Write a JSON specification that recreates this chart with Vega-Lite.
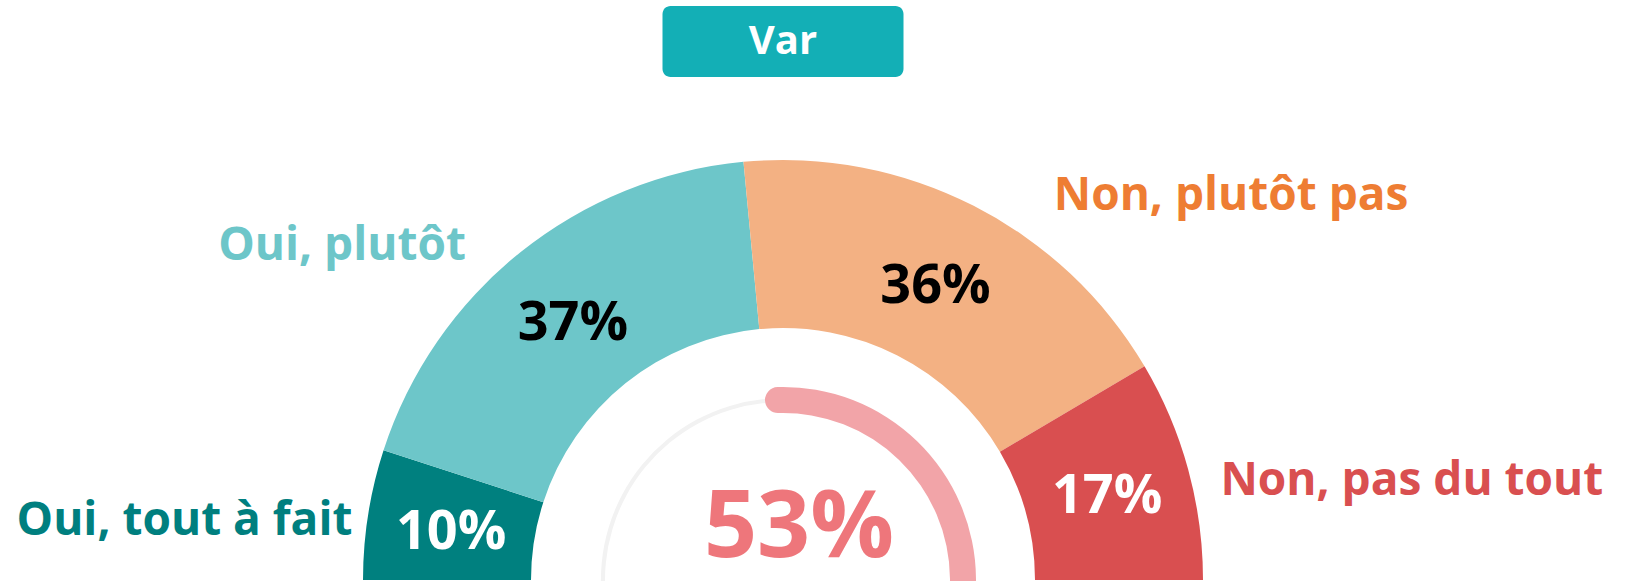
{
  "$schema": "https://vega.github.io/schema/vega-lite/v6.json",
  "padding": {"left": 0, "top": 6, "right": 0, "bottom": 0},
  "bounds": "flush",
  "center": true,
  "spacing": 0,
  "background": "white",
  "config": {"font": "Open Sans", "view": {"stroke": null}},
  "datasets": {
    "answers": [
      {"cat": "Oui, tout à fait", "pct": 0.10, "ord": 1},
      {"cat": "Oui, plutôt", "pct": 0.37, "ord": 2},
      {"cat": "Non, plutôt pas", "pct": 0.36, "ord": 3},
      {"cat": "Non, pas du tout", "pct": 0.17, "ord": 4}
    ],
    "gauge": [{"part": "track", "v": 1.0}, {"part": "value", "v": 0.53}]
  },
  "vconcat": [
    {
      "width": 241,
      "height": 71,
      "view": {"fill": "#13AFB6", "cornerRadius": 8, "stroke": null},
      "data": {"values": [{"title": "Var"}]},
      "mark": {"type": "text", "fontSize": 40, "fontWeight": "bold", "color": "white", "baseline": "middle"},
      "encoding": {"text": {"field": "title"}}
    },
    {
      "width": 1566,
      "height": 503,
      "view": {"stroke": null},
      "resolve": {"scale": {"theta": "independent", "color": "independent"}},
      "layer": [
        {
          "data": {"name": "answers"},
          "mark": {"type": "arc", "radius": 420, "radius2": 252, "y": "height"},
          "encoding": {
            "theta": {"field": "pct", "type": "quantitative", "stack": true, "scale": {"domain": [0, 1], "range": [-1.5708, 1.5708]}},
            "order": {"field": "ord"},
            "color": {"field": "cat", "type": "nominal", "legend": null,
              "scale": {"domain": ["Oui, tout à fait", "Oui, plutôt", "Non, plutôt pas", "Non, pas du tout"],
                        "range": ["#00807F", "#6DC6C9", "#F3B183", "#D94F50"]}}
          }
        },
        {
          "data": {"name": "answers"},
          "mark": {"type": "text", "radius": 336, "y": "height", "dy": 6, "fontSize": 54, "fontWeight": "bold", "baseline": "middle", "align": "center"},
          "encoding": {
            "theta": {"field": "pct", "type": "quantitative", "stack": true, "scale": {"domain": [0, 1], "range": [-1.5708, 1.5708]}},
            "order": {"field": "ord"},
            "text": {"field": "pct", "type": "quantitative", "format": ".0%"},
            "color": {"field": "cat", "type": "nominal", "legend": null,
              "scale": {"domain": ["Oui, tout à fait", "Oui, plutôt", "Non, plutôt pas", "Non, pas du tout"],
                        "range": ["#FFFFFF", "#000000", "#000000", "#FFFFFF"]}}
          }
        },
        {
          "data": {"name": "answers"},
          "mark": {"type": "text", "radius": 440, "y": "height", "fontSize": 46, "fontWeight": "bold", "baseline": "middle", "align": "right", "color": "#007F7F", "dy": 10, "dx": 4},
          "encoding": {
            "theta": {"field": "pct", "type": "quantitative", "stack": true, "scale": {"domain": [0, 1], "range": [-1.5708, 1.5708]}},
            "order": {"field": "ord"},
            "text": {"condition": {"test": "datum.ord == 1", "field": "cat"}, "value": ""}
          }
        },
        {
          "data": {"name": "answers"},
          "mark": {"type": "text", "radius": 440, "y": "height", "fontSize": 46, "fontWeight": "bold", "baseline": "middle", "align": "right", "color": "#6DC6C9", "dx": -42, "dy": 9},
          "encoding": {
            "theta": {"field": "pct", "type": "quantitative", "stack": true, "scale": {"domain": [0, 1], "range": [-1.5708, 1.5708]}},
            "order": {"field": "ord"},
            "text": {"condition": {"test": "datum.ord == 2", "field": "cat"}, "value": ""}
          }
        },
        {
          "data": {"name": "answers"},
          "mark": {"type": "text", "radius": 440, "y": "height", "fontSize": 46, "fontWeight": "bold", "baseline": "middle", "align": "left", "color": "#EE7D33", "dx": 71, "dy": 8},
          "encoding": {
            "theta": {"field": "pct", "type": "quantitative", "stack": true, "scale": {"domain": [0, 1], "range": [-1.5708, 1.5708]}},
            "order": {"field": "ord"},
            "text": {"condition": {"test": "datum.ord == 3", "field": "cat"}, "value": ""}
          }
        },
        {
          "data": {"name": "answers"},
          "mark": {"type": "text", "radius": 440, "y": "height", "fontSize": 46, "fontWeight": "bold", "baseline": "middle", "align": "left", "color": "#D94F50", "dx": 13, "dy": 17},
          "encoding": {
            "theta": {"field": "pct", "type": "quantitative", "stack": true, "scale": {"domain": [0, 1], "range": [-1.5708, 1.5708]}},
            "order": {"field": "ord"},
            "text": {"condition": {"test": "datum.ord == 4", "field": "cat"}, "value": ""}
          }
        },
        {
          "data": {"name": "gauge"},
          "transform": [{"filter": "datum.part == 'track'"}],
          "mark": {"type": "arc", "radius": 182, "radius2": 178, "y": "height", "color": "#F2F2F2"},
          "encoding": {
            "theta": {"field": "v", "type": "quantitative", "scale": {"domain": [0, 1], "range": [-0.1, 6.1832]}}
          }
        },
        {
          "data": {"name": "gauge"},
          "transform": [{"filter": "datum.part == 'value'"}],
          "mark": {"type": "arc", "radius": 193, "radius2": 167, "cornerRadius": 13, "y": "height", "color": "#F2A4A8"},
          "encoding": {
            "theta": {"field": "v", "type": "quantitative", "scale": {"domain": [0, 1], "range": [-0.1, 6.1832]}}
          }
        },
        {
          "data": {"name": "gauge"},
          "transform": [{"filter": "datum.part == 'value'"}],
          "mark": {"type": "text", "y": "height", "dy": -23, "dx": 16, "fontSize": 93, "fontWeight": "bold", "baseline": "alphabetic", "align": "center", "color": "#EE767B"},
          "encoding": {
            "text": {"field": "v", "type": "quantitative", "format": ".0%"}
          }
        }
      ]
    }
  ]
}
